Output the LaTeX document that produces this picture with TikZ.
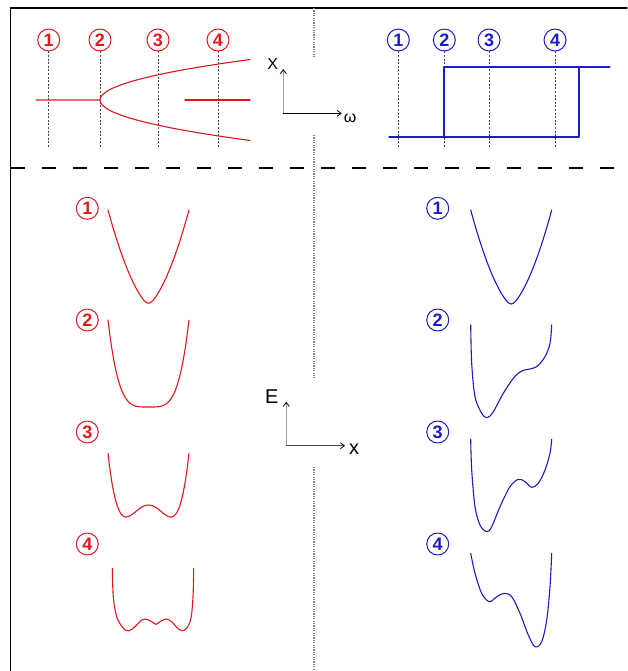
\documentclass[tikz,border=0pt]{standalone}
\usepackage{fontspec}
\setmainfont{Liberation Sans}
\usetikzlibrary{arrows.meta}
\definecolor{wellred}{RGB}{222,25,30}
\definecolor{wellblue}{RGB}{28,28,196}
\tikzset{
  num/.style={circle,draw,line width=1pt,minimum size=22pt,inner sep=0pt,
    font=\fontsize{18}{18}\selectfont\bfseries},
  guide/.style={line width=1pt,line cap=butt,dash pattern=on 2pt off 1.6pt,gray!55!black},
  axisline/.style={line width=1.1pt,gray!75,
    -{Straight Barb[length=4pt,width=6pt,black,line width=0.8pt]}},
  well/.style={line width=1.1pt,smooth},
  axlabel/.style={inner sep=0pt,font=\fontsize{16}{16}\selectfont},
  biglabel/.style={inner sep=0pt,font=\fontsize{20}{20}\selectfont},
}
\begin{document}
\begin{tikzpicture}[x=1pt,y=-1pt,line cap=round,line join=round]
  \useasboundingbox (0,0) rectangle (627,671);
  % frame and separators
  \draw[line width=1.3pt] (10.7,671) -- (10.7,8) -- (627,8);
  \draw[line width=1.3pt,line cap=butt,dash pattern=on 14pt off 17pt] (11,168) -- (627,168);
  \draw[gray,line width=2pt,line cap=butt,dash pattern=on 1.2pt off 1.2pt]
    (314,8) -- (314,58) (314,135) -- (314,378) (314,467) -- (314,671);

  % bifurcation (left)
  \foreach \n/\x in {1/48.7,2/100,3/158,4/218} {
    \node[num,wellred] (r\n) at (\x,40) {\n};
    \draw[guide] (r\n) -- (\x,147);
  }
  \draw[wellred,line width=1.1pt] (36,100) -- (100,100)
    plot[domain=-40.5:40.5,samples=41] ({100+0.0915*\x*\x},{100+\x});
  \draw[wellred,line width=1.1pt] (185,100) -- (250,100);

  % axes X / omega
  \coordinate (o1) at (283.3,113.3);
  \coordinate (o1up) at (283.3,69);
  \coordinate (o1right) at (341.7,113.3);
  \draw[axisline] (o1) -- (o1up);
  \draw[axisline,black] (o1) -- (o1right);
  \node[axlabel] (xl) at (272.7,64) {X};
  \node[axlabel] (wl) at (350,118) {ω};

  % hysteresis (right)
  \foreach \n/\x in {1/398.3,2/444.3,3/489,4/555} {
    \node[num,wellblue] (b\n) at (\x,40) {\n};
    \draw[guide] (b\n) -- (\x,147);
  }
  \draw[wellblue,line width=1.1pt] (389,137) -- (579,137) -- (579,67)
    (444,137) -- (444,67) -- (610,67);

  % axes E / x
  \coordinate (o2) at (286.3,445.7);
  \coordinate (o2up) at (286.3,401.7);
  \coordinate (o2right) at (345,445.7);
  \draw[axisline] (o2) -- (o2up);
  \draw[axisline,gray!60!black] (o2) -- (o2right);
  \node[biglabel] (el) at (271.7,396.5) {E};
  \node[biglabel] (xxl) at (354,449) {x};

  % potential labels
  \foreach \n/\y in {1/208.3,2/320,3/432,4/544} {
    \node[num,wellred] (er\n) at (87.3,\y) {\n};
    \node[num,wellblue] (eb\n) at (437.7,\y) {\n};
  }

  % red potentials
  \draw[well,wellred] plot[domain=-1:1,samples=41]
    ({148.5+40.5*\x},{303.3-93.3*(0.55*\x*\x+0.45*(sqrt(\x*\x+0.01)-0.1)/0.905)});
  \draw[well,wellred] plot[domain=-1:1,samples=41]
    ({148.5+40.5*\x},{407-87*\x*\x*\x*\x});
  \draw[well,wellred] plot[domain=-1:1,samples=61]
    ({148.5+40.5*\x},{517-131*(\x*\x-0.3025)*(\x*\x-0.3025)});
  \draw[well,wellred] plot[tension=0.55] coordinates {
    (112.3,568.3) (113.3,596.7) (116.7,616.7) (123.3,628.3) (129,630.7)
    (135,626.7) (141.7,620) (146,619) (151.7,621.7) (156,624.3)
    (160,621.7) (166,619) (171.7,621.7) (176.7,627.3) (181.7,630.7)
    (186.7,628.3) (191,618) (193,596.7) (193.7,568.3)};

  % blue potentials
  \draw[well,wellblue] plot[domain=-1:1,samples=41]
    ({511.2+40.5*\x},{304-94*(0.55*\x*\x+0.45*(sqrt(\x*\x+0.01)-0.1)/0.905)});
  \draw[well,wellblue] plot[tension=0.55] coordinates {
    (470.7,325) (471.7,363.3) (475,396.7) (481.7,413.3) (487.3,417.7)
    (493.3,411.7) (503.3,393.3) (513.3,378.3) (521.7,371) (528.3,369.3)
    (536.7,366.7) (545,356.7) (550,343.3) (551.7,325)};
  \draw[well,wellblue] plot[tension=0.55] coordinates {
    (470.7,439.3) (471.7,470) (475,506.7) (480,525) (486.7,531.7)
    (491.7,526.7) (500,506.7) (510,486.7) (518.3,479.3) (525,481.7)
    (531.7,487.3) (538.3,483.3) (545,470) (550,453.3) (551.7,439.3)};
  \draw[well,wellblue] plot[tension=0.55] coordinates {
    (470.7,553.3) (475,573.3) (481.7,593.3) (489.3,601.7) (496.7,596.7)
    (504,593.3) (511.7,596.7) (520,613.3) (528.3,635) (535,646.7)
    (541.7,641.7) (546.7,620) (550,586.7) (551.7,553.3)};
\end{tikzpicture}
\end{document}
